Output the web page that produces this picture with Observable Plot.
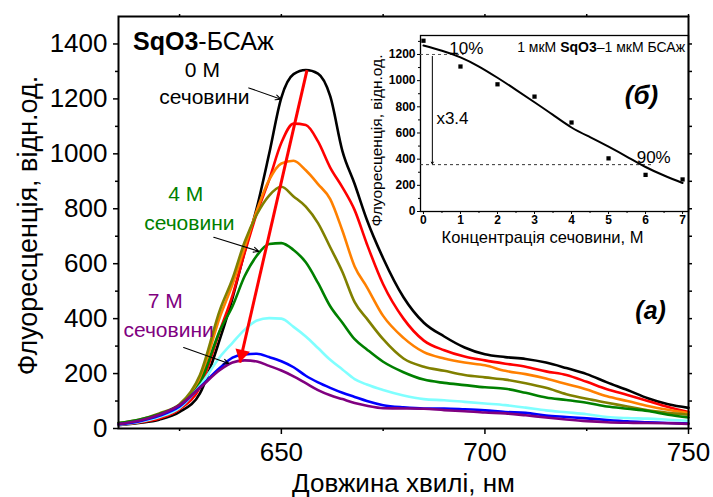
<!DOCTYPE html>
<html><head><meta charset="utf-8">
<script src="https://cdn.jsdelivr.net/npm/d3@7"></script>
<script src="https://cdn.jsdelivr.net/npm/@observablehq/plot@0.6"></script>
<style>
body{margin:0;background:#fff;}
#wrap{position:relative;width:713px;height:497px;font-family:"Liberation Sans",Arial,sans-serif;}
#main{position:absolute;left:0;top:0;}
#inset{position:absolute;left:360px;top:20px;}
</style></head>
<body><div id="wrap"><div id="main"></div><div id="inset"></div></div>
<script>
// ---------- main panel data (a) ----------
const wavelength = [610, 615, 620, 625, 630, 635, 638, 641, 644, 647, 650, 653, 656, 659, 662, 665, 668, 671, 675, 680, 685, 690, 695, 700, 705, 710, 715, 720, 725, 730, 735, 740, 745, 750];
const series = ["0 M", "1 M", "2 M", "3 M", "4 M", "5 M", "6 M", "7 M"];
const seriesColors = ["#000000", "#ff0000", "#ff8000", "#808000", "#008000", "#80ffff", "#0000ff", "#800080"];
const urea0 = [12, 20, 32, 60, 128, 330, 475, 645, 805, 1000, 1205, 1290, 1305, 1292, 1210, 1010, 890, 760, 620, 478, 385, 335, 295, 270, 260, 253, 240, 220, 198, 168, 140, 110, 88, 75];
const urea1 = [14, 22, 36, 70, 150, 360, 485, 640, 785, 905, 1040, 1110, 1105, 1045, 950, 878, 795, 672, 525, 400, 320, 285, 262, 248, 236, 225, 208, 195, 170, 143, 122, 100, 78, 60];
const urea2 = [15, 25, 45, 80, 180, 410, 525, 660, 795, 905, 965, 975, 940, 890, 835, 720, 590, 515, 410, 330, 278, 255, 240, 230, 210, 198, 182, 162, 142, 117, 100, 82, 68, 56];
const urea3 = [20, 32, 55, 88, 195, 435, 545, 680, 780, 848, 880, 845, 808, 748, 660, 570, 460, 400, 325, 255, 225, 210, 195, 186, 178, 165, 148, 125, 108, 94, 80, 66, 57, 50];
const urea4 = [20, 32, 52, 85, 165, 360, 445, 555, 630, 672, 675, 650, 605, 530, 445, 385, 325, 288, 243, 205, 178, 166, 158, 150, 145, 130, 113, 104, 94, 80, 72, 64, 50, 40];
const urea5 = [14, 24, 42, 75, 155, 262, 312, 360, 393, 402, 400, 370, 335, 293, 250, 215, 180, 160, 140, 120, 107, 103, 97, 91, 85, 76, 66, 59, 52, 42, 38, 36, 32, 28];
const urea6 = [15, 26, 46, 80, 150, 222, 258, 270, 272, 260, 245, 223, 192, 168, 148, 130, 115, 100, 85, 77, 73, 73, 70, 66, 60, 57, 47, 42, 37, 31, 26, 23, 20, 18];
const urea7 = [16, 28, 50, 85, 148, 214, 240, 248, 244, 228, 211, 190, 165, 140, 121, 107, 93, 83, 74, 73, 72, 67, 63, 58, 55, 48, 40, 33, 27, 23, 21, 20, 19, 17];
const spectra = [urea0, urea1, urea2, urea3, urea4, urea5, urea6, urea7];

const yTicksMain = [0, 200, 400, 600, 800, 1000, 1200, 1400];
const yMinorMain = [100, 300, 500, 700, 900, 1100, 1300];
const xTicksMain = [650, 700, 750];
const xMinorMain = [625, 675, 725];

// red trend arrow (peak shift), in data units
const trendFrom = [656.3, 1305];
const trendTo = [639.8, 240];

// annotation labels and pointer arrows
const annLabels = ["0 М", "сечовини", "4 М", "сечовини", "7 М", "сечовини"];
const annLabelX = [630.6, 631.1, 626.5, 627.4, 621.5, 622.3];
const annLabelY = [1303, 1205, 852, 746, 462, 357];
const annLabelColor = ["#000000", "#000000", "#008000", "#008000", "#800080", "#800080"];
const pointerX1 = [642.0, 633.4, 626.0];
const pointerY1 = [1240, 696, 295];
const pointerX2 = [649.9, 644.5, 637.1];
const pointerY2 = [1199, 645, 237];

// ---------- inset data (б) ----------
const ureaConc = [0, 1, 2, 3, 4, 5, 6, 7];
const peakFluor = [1305, 1108, 972, 878, 680, 406, 280, 245];
const fitConc = [0, 0.5, 1, 1.5, 2, 2.5, 3, 3.5, 4, 4.5, 5, 5.5, 6, 6.5, 7];
const fitValue = [1268, 1228, 1178, 1108, 1022, 930, 835, 738, 642, 568, 495, 418, 340, 275, 218];
const insetYTicks = [0, 200, 400, 600, 800, 1000, 1200];
const insetYMinor = [100, 300, 500, 700, 900, 1100, 1300];
const insetXTicks = [0, 1, 2, 3, 4, 5, 6, 7];
const insetXMinor = [0.5, 1.5, 2.5, 3.5, 4.5, 5.5, 6.5];
const level10 = 1200, level90 = 358;

const FONT = "Liberation Sans, Arial, sans-serif";
const plain = (d) => String(d);

// long table for spectra
const table = [];
series.forEach((s, k) => wavelength.forEach((w, i) => table.push({wl: w, value: spectra[k][i], series: s})));

const labels = annLabels.map((t, i) => ({t, x: annLabelX[i], y: annLabelY[i], c: annLabelColor[i]}));
const pointers = pointerX1.map((_, i) => ({x1: pointerX1[i], y1: pointerY1[i], x2: pointerX2[i], y2: pointerY2[i]}));
const trend = [{x1: trendFrom[0], y1: trendFrom[1], x2: trendTo[0], y2: trendTo[1]}];

const main = Plot.plot({
  width: 713, height: 497,
  marginLeft: 118, marginRight: 25, marginTop: 16, marginBottom: 69,
  x: {domain: [610, 750]},
  y: {domain: [0, 1500]},
  color: {domain: series, range: seriesColors},
  style: {fontFamily: FONT, background: "transparent", overflow: "visible", color: "black"},
  marks: [
    Plot.axisY({ticks: yTicksMain, tickSize: 5, tickPadding: 6, fontSize: 26, tickFormat: plain, label: null, strokeWidth: 1.5}),
    Plot.axisY({ticks: yMinorMain, tickSize: 3, tickFormat: () => "", label: null, strokeWidth: 1.5}),
    Plot.axisY({anchor: "right", ticks: yTicksMain.concat(yMinorMain), tickSize: 3, tickFormat: () => "", label: null, strokeWidth: 1.5}),
    Plot.axisX({ticks: xTicksMain, tickSize: 6, tickPadding: 8, fontSize: 26, tickFormat: plain, label: null, strokeWidth: 1.5}),
    Plot.axisX({ticks: xMinorMain, tickSize: 3, tickFormat: () => "", label: null, strokeWidth: 1.5}),
    Plot.axisX({anchor: "top", ticks: xTicksMain.concat(xMinorMain), tickSize: 3, tickFormat: () => "", label: null, strokeWidth: 1.5}),
    Plot.line(table, {x: "wl", y: "value", z: "series", stroke: "series", strokeWidth: 2.6, curve: "monotone-x"}),
    Plot.frame({stroke: "black", strokeWidth: 2}),
    Plot.link(trend, {x1: "x1", y1: "y1", x2: "x2", y2: "y2", stroke: "#ff0000", strokeWidth: 3}),
    Plot.dot(trend, {x: "x2", y: "y2", symbol: "triangle", r: 5.5, fill: "#ff0000", rotate: 193, dx: 1.9, dy: -8.3}),
    Plot.arrow(pointers, {x1: "x1", y1: "y1", x2: "x2", y2: "y2", stroke: "black", strokeWidth: 1.1, headLength: 8, headAngle: 50}),
    Plot.text(labels, {x: "x", y: "y", text: "t", fill: "c", fontSize: 21}),
    Plot.text(["(a)"], {x: () => 740.7, y: () => 426, fontSize: 25, fontWeight: "bold", fontStyle: "italic"}),
    Plot.text(["Довжина хвилі, нм"], {frameAnchor: "bottom", textAnchor: "middle", lineAnchor: "middle", dy: 55, fontSize: 26}),
    Plot.text(["Флуоресценція, відн.од."], {frameAnchor: "left", textAnchor: "middle", lineAnchor: "middle", rotate: -90, dx: -90, dy: 3, fontSize: 27})
  ]
});
document.getElementById("main").appendChild(main);

// mixed-weight title
{
  const sx = main.scale("x"), sy = main.scale("y");
  const t = d3.select(main).append("text")
    .attr("x", sx.apply(613.7)).attr("y", sy.apply(1409)).attr("dy", "0.35em")
    .attr("text-anchor", "start")
    .attr("font-size", 25).attr("font-family", FONT).attr("fill", "black");
  t.append("tspan").attr("font-weight", "bold").text("SqO3");
  t.append("tspan").text("-БСАж");
}

// ---------- inset ----------
const fit = fitConc.map((c, i) => ({c, v: fitValue[i]}));
const pts = ureaConc.map((c, i) => ({c, v: peakFluor[i]}));
const inset = Plot.plot({
  width: 335, height: 230,
  marginLeft: 60, marginRight: 7, marginTop: 15, marginBottom: 39,
  x: {domain: [-0.08, 7.16]},
  y: {domain: [0, 1345]},
  style: {fontFamily: FONT, background: "transparent", overflow: "visible", color: "black"},
  marks: [
    Plot.axisY({ticks: insetYTicks, tickSize: 3, tickPadding: 2, fontSize: 12, fontWeight: "bold", tickFormat: plain, label: null}),
    Plot.axisY({ticks: insetYMinor, tickSize: 2, tickFormat: () => "", label: null}),
    Plot.axisX({ticks: insetXTicks, tickSize: 3, tickPadding: 1, fontSize: 12, fontWeight: "bold", tickFormat: plain, label: null}),
    Plot.axisX({ticks: insetXMinor, tickSize: 2, tickFormat: () => "", label: null}),
    Plot.frame({stroke: "black", strokeWidth: 1.3}),
    Plot.ruleY([level10], {x1: -0.08, x2: 1.1, stroke: "#555", strokeDasharray: "3,3", strokeWidth: 1}),
    Plot.ruleY([level90], {x1: -0.08, x2: 6.2, stroke: "#333", strokeDasharray: "3,3", strokeWidth: 1}),
    Plot.arrow([{x: 0.24, a: 1185, b: level90 + 6}], {x1: "x", x2: "x", y1: "a", y2: "b", stroke: "black", strokeWidth: 1, headLength: 3, headAngle: 60}),
    Plot.line(fit, {x: "c", y: "v", stroke: "black", strokeWidth: 2, curve: "natural"}),
    Plot.dot(pts, {x: "c", y: "v", symbol: "square", r: 2.4, fill: "black"}),
    Plot.text(["10%"], {x: () => 0.70, y: () => 1245, textAnchor: "start", fontSize: 17}),
    Plot.text(["90%"], {x: () => 5.76, y: () => 413, textAnchor: "start", fontSize: 17}),
    Plot.text(["x3.4"], {x: () => 0.35, y: () => 710, textAnchor: "start", fontSize: 17}),
    Plot.text(["(б)"], {x: () => 5.89, y: () => 886, fontSize: 26, fontWeight: "bold", fontStyle: "italic"}),
    Plot.text(["Концентрація сечовини, М"], {frameAnchor: "bottom", textAnchor: "middle", lineAnchor: "middle", dy: 26, dx: -12, fontSize: 16.5}),
    Plot.text(["Флуоресценція, відн.од."], {frameAnchor: "left", textAnchor: "middle", lineAnchor: "middle", rotate: -90, dx: -43, dy: 17, fontSize: 15.5})
  ]
});
document.getElementById("inset").appendChild(inset);
{
  const sx = inset.scale("x"), sy = inset.scale("y");
  const t = d3.select(inset).append("text")
    .attr("x", sx.apply(7.08)).attr("y", sy.apply(1253)).attr("dy", "0.35em")
    .attr("text-anchor", "end").attr("font-size", 14).attr("font-family", FONT).attr("fill", "black");
  t.append("tspan").text("1 мкМ ");
  t.append("tspan").attr("font-weight", "bold").text("SqO3");
  t.append("tspan").text("–1 мкМ БСАж");
}
</script></body></html>
